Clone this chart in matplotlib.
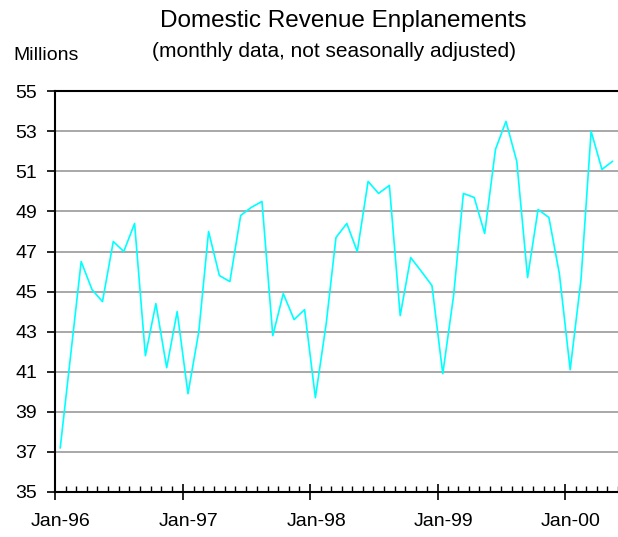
import matplotlib
matplotlib.use("Agg")
import matplotlib.pyplot as plt
import matplotlib.dates as mdates
import matplotlib.transforms as mtransforms
import pandas as pd

# monthly domestic revenue enplanements, millions (Jan-96 .. May-00)
START = "1996-01-01"
values = [37.2, 42.0, 46.5, 45.1, 44.5, 47.5, 47.0, 48.4, 41.8, 44.4, 41.2, 44.0,
          39.9, 43.0, 48.0, 45.8, 45.5, 48.8, 49.2, 49.5, 42.8, 44.9, 43.6, 44.1,
          39.7, 43.4, 47.7, 48.4, 47.0, 50.5, 49.9, 50.3, 43.8, 46.7, 46.0, 45.3,
          40.9, 44.8, 49.9, 49.7, 47.9, 52.1, 53.5, 51.5, 45.7, 49.1, 48.7, 45.9,
          41.1, 45.6, 53.0, 51.1, 51.5]
y_ticks = list(range(35, 56, 2))

TITLE = "Domestic Revenue Enplanements"
SUBTITLE = "(monthly data, not seasonally adjusted)"
UNIT = "Millions"

plt.rcParams["font.family"] = ["Liberation Sans", "DejaVu Sans"]

months = pd.date_range(START, periods=len(values), freq="MS")
x = months + pd.Timedelta(days=15)          # points sit mid-month, like the Excel category axis

fig = plt.figure(figsize=(6.18, 5.37), dpi=100)
ax = fig.add_axes([0.089, 0.084, 0.911, 0.746])

ax.plot(x, values, color="#00ffff", lw=1.2, zorder=3)

ax.set_xlim(months[0], months[-1] + pd.offsets.MonthBegin(1))
ax.set_ylim(y_ticks[0], y_ticks[-1])
ax.set_yticks(y_ticks)
ax.yaxis.grid(True, color="#999999", lw=1.2)
ax.set_axisbelow(True)

ax.xaxis.set_major_locator(mdates.YearLocator())
ax.xaxis.set_minor_locator(mdates.MonthLocator())
ax.xaxis.set_major_formatter(mdates.DateFormatter("%b-%y"))

ax.tick_params(axis="y", direction="out", length=6, width=1.2, labelsize=14, pad=7)
ax.tick_params(axis="x", which="major", direction="inout", length=11, width=1.2,
               labelsize=14, pad=10)
ax.tick_params(axis="x", which="minor", direction="in", length=4, width=1.0)

# Excel puts the year labels a little to the right of the tick
shift = mtransforms.ScaledTranslation(6 / 100, 0, fig.dpi_scale_trans)
for lb in ax.get_xticklabels():
    lb.set_transform(lb.get_transform() + shift)

for s in ["left", "bottom", "top"]:
    ax.spines[s].set_linewidth(1.5)
ax.spines["right"].set_visible(False)

fig.text(0.555, 0.9497, TITLE, ha="center", va="baseline", fontsize=17.5)
fig.text(0.540, 0.8939, SUBTITLE, ha="center", va="baseline", fontsize=15)
fig.text(0.021, 0.888, UNIT, ha="left", va="baseline", fontsize=14)

fig.savefig("out.png", dpi=100)
